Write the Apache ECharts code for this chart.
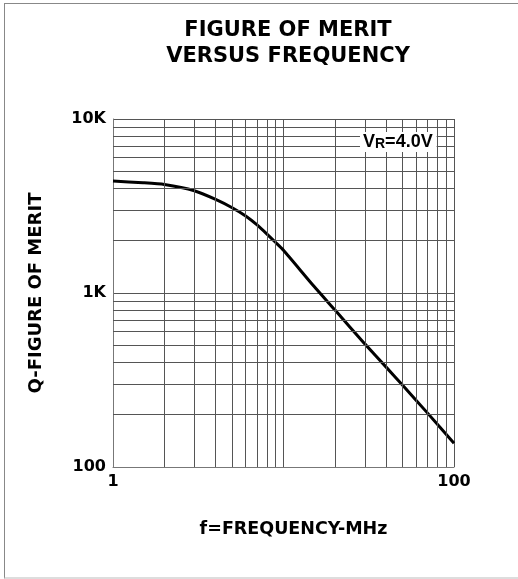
<!DOCTYPE html>
<html><head><meta charset="utf-8">
<script src="https://cdn.jsdelivr.net/npm/echarts@6/dist/echarts.min.js"></script>
<style>
html,body{margin:0;padding:0;background:#fff;overflow:hidden;width:518px;height:579px;}
#chart{position:absolute;left:0;top:0;width:518px;height:579px;}
#frame{position:absolute;left:4px;top:3px;width:540px;height:573px;border-top:1px solid #888;border-left:1px solid #888;border-bottom:2px solid #ddd;pointer-events:none;}
</style></head><body>
<div id="chart"></div><div id="frame"></div>
<script>
const frequencyMHz   = [1, 1.5, 2, 3, 4, 5, 6, 7, 8, 9, 10, 15, 20, 30, 40, 50, 70, 100];
const qFigureOfMerit = [4400, 4300, 4200, 3870, 3450, 3090, 2770, 2460, 2180, 1950, 1760, 1100, 800, 510, 375, 295, 204, 137];
const xTickLabels = {1: '1', 100: '100'};
const yTickLabels = {100: '100', 1000: '1K', 10000: '10K'};
const xMinorGrid = [2, 3, 4, 5, 6, 7, 8, 9, 20, 30, 40, 50, 60, 70, 80, 90];
const yMinorGrid = [200, 300, 400, 500, 600, 700, 800, 900, 2000, 3000, 4000, 5000, 6000, 7000, 8000, 9000];
const conditionLabel = '{v|V}{r|R}{v|=4.0V}';

const boldFont = {fontFamily: 'DejaVu Sans', fontWeight: 'bold', color: '#000'};
const gridLineStyle = {color: '#555', width: 1, type: 'solid'};

const chart = echarts.init(document.getElementById('chart'), null, {renderer: 'canvas'});
chart.setOption({
  animation: false,
  backgroundColor: 'transparent',
  title: [
    {
      text: 'FIGURE OF MERIT\nVERSUS FREQUENCY',
      left: 288, top: 18, padding: 0, textAlign: 'center',
      textStyle: Object.assign({}, boldFont, {fontSize: 21, lineHeight: 26})
    },
    {
      text: conditionLabel,
      left: 360, top: 132, padding: [1, 4, 1, 3], backgroundColor: '#fff',
      textStyle: {
        rich: {
          v: {fontFamily: 'Liberation Sans', fontWeight: 'bold', fontSize: 18, color: '#000', verticalAlign: 'bottom'},
          r: {fontFamily: 'Liberation Sans', fontWeight: 'bold', fontSize: 14, color: '#000', verticalAlign: 'bottom'}
        }
      }
    }
  ],
  grid: {left: 113, right: 64, top: 119, bottom: 112, containLabel: false},
  xAxis: {
    type: 'log', logBase: 10, min: 1, max: 100,
    axisLine: {show: true, lineStyle: {color: '#777', width: 1}},
    axisTick: {show: false},
    splitLine: {show: true, lineStyle: gridLineStyle},
    axisLabel: Object.assign({}, boldFont, {fontSize: 16, margin: 7,
      formatter: v => xTickLabels[Math.round(v)] || ''}),
    name: 'f=FREQUENCY-MHz', nameLocation: 'middle', nameGap: 53,
    nameTextStyle: Object.assign({}, boldFont, {fontSize: 17.5, padding: [0, 0, 0, 20]})
  },
  yAxis: {
    type: 'log', logBase: 10, min: 100, max: 10000,
    axisLine: {show: true, lineStyle: {color: '#777', width: 1}},
    axisTick: {show: false},
    splitLine: {show: true, lineStyle: gridLineStyle},
    axisLabel: Object.assign({}, boldFont, {fontSize: 16, margin: 7,
      formatter: v => yTickLabels[Math.round(v)] || ''}),
    name: 'Q-FIGURE OF MERIT', nameLocation: 'middle', nameGap: 68,
    nameTextStyle: Object.assign({}, boldFont, {fontSize: 18})
  },
  series: [
    {
      name: 'grid', type: 'line', z: 1, data: [], silent: true,
      markLine: {
        silent: true, symbol: 'none', animation: false,
        label: {show: false},
        lineStyle: gridLineStyle,
        data: xMinorGrid.map(v => ({xAxis: v})).concat(yMinorGrid.map(v => ({yAxis: v})))
      }
    },
    {
      name: 'Q', type: 'line', z: 3, showSymbol: false, smooth: 0.2,
      lineStyle: {color: '#000', width: 3},
      itemStyle: {color: '#000'},
      data: frequencyMHz.map((f, i) => [f, qFigureOfMerit[i]])
    }
  ]
});
</script>
</body></html>
